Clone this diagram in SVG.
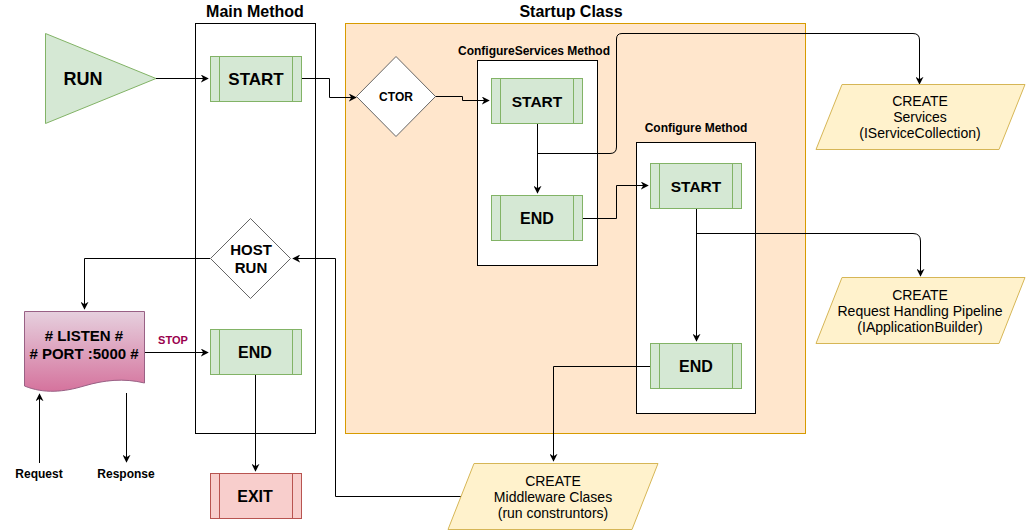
<svg xmlns="http://www.w3.org/2000/svg" width="1026" height="530" viewBox="0 0 1026 530">
<style>
text{font-family:"Liberation Sans",Arial,sans-serif;text-anchor:middle;fill:#000}
.b{font-weight:bold}
.proc{fill:#d5e8d4;stroke:#82b366;stroke-width:1}
.exit{fill:#f8cecc;stroke:#b85450;stroke-width:1}
.io{fill:#fff2cc;stroke:#d6b656;stroke-width:1}
.dia{fill:#ffffff;stroke:#666666;stroke-width:1}
.cont{fill:#ffffff;stroke:#000000;stroke-width:1}
.edge{fill:none;stroke:#000;stroke-width:1}
</style>
<defs>
<marker id="arr" viewBox="0 0 10 10" refX="9" refY="5" markerWidth="8" markerHeight="8" markerUnits="userSpaceOnUse" orient="auto">
<path d="M0,0 L10,5 L0,10 L3,5 z" fill="#000"/>
</marker>
<linearGradient id="pink" x1="0" y1="0" x2="0" y2="1">
<stop offset="0" stop-color="#e6d0de"/>
<stop offset="1" stop-color="#d5739d"/>
</linearGradient>
</defs>

<g id="startup-class">
<rect x="345.5" y="23.5" width="460" height="410" fill="#ffe6cc" stroke="#d79b00"/>
<text class="b" x="571" y="17" font-size="16">Startup Class</text>
</g>
<g id="main-method">
<rect class="cont" x="195.5" y="23.5" width="120" height="410"/>
<text class="b" x="255" y="17" font-size="16">Main Method</text>
</g>
<g id="configureservices-method">
<rect class="cont" x="477.5" y="60.5" width="120" height="205"/>
<text class="b" x="534" y="55" font-size="12">ConfigureServices Method</text>
</g>
<g id="configure-method">
<rect class="cont" x="636.5" y="142.5" width="119" height="271"/>
<text class="b" x="696" y="132" font-size="12">Configure Method</text>
</g>

<g id="connectors">
<path class="edge" d="M156,78.5 H208" marker-end="url(#arr)"/>
<path class="edge" d="M301,78.5 H329.5 V97.5 H356" marker-end="url(#arr)"/>
<path class="edge" d="M435,96.5 H462.5 V100.5 H489" marker-end="url(#arr)"/>
<path class="edge" d="M537.5,123 V193" marker-end="url(#arr)"/>
<path class="edge" d="M537.5,153.5 H610 Q616.5,153.5 616.5,147 V39 Q616.5,33.5 622,33.5 H913 Q919.5,33.5 919.5,40 V84" marker-end="url(#arr)"/>
<path class="edge" d="M582,218.5 H616.5 V185.5 H648" marker-end="url(#arr)"/>
<path class="edge" d="M696.5,208 V341" marker-end="url(#arr)"/>
<path class="edge" d="M696.5,233.5 H913 Q920.5,233.5 920.5,241 V276" marker-end="url(#arr)"/>
<path class="edge" d="M650,366.5 H553.5 V461" marker-end="url(#arr)"/>
<path class="edge" d="M461,496.5 H335.5 V258.5 H293" marker-end="url(#arr)"/>
<path class="edge" d="M210,258.5 H84.5 V309" marker-end="url(#arr)"/>
<path class="edge" d="M144,352.5 H208" marker-end="url(#arr)"/>
<text class="b" x="173" y="344" font-size="11" style="fill:#99004d">STOP</text>
<path class="edge" d="M255.5,374 V471" marker-end="url(#arr)"/>
<path class="edge" d="M39.5,463 V394" marker-end="url(#arr)"/>
<path class="edge" d="M126.5,393 V462" marker-end="url(#arr)"/>
</g>

<g id="run">
<path d="M45.5,33.5 L156,78.5 L45.5,123.5 Z" fill="#d5e8d4" stroke="#82b366"/>
<text class="b" x="83" y="85" font-size="18">RUN</text>
</g>
<g id="main-start">
<rect class="proc" x="210.5" y="56.5" width="91" height="45"/>
<path d="M219.5,56.5 V101.5 M292.5,56.5 V101.5" stroke="#82b366"/>
<text class="b" x="256" y="85" font-size="17">START</text>
</g>
<g id="ctor">
<path class="dia" d="M396,56.5 L435.5,96.5 L396,136.5 L356.5,96.5 Z"/>
<text class="b" x="396" y="101" font-size="12">CTOR</text>
</g>
<g id="cs-start">
<rect class="proc" x="491.5" y="78.5" width="91" height="45"/>
<path d="M500.5,78.5 V123.5 M573.5,78.5 V123.5" stroke="#82b366"/>
<text class="b" x="537" y="107" font-size="15.5">START</text>
</g>
<g id="cs-end">
<rect class="proc" x="491.5" y="195.5" width="91" height="45"/>
<path d="M500.5,195.5 V240.5 M573.5,195.5 V240.5" stroke="#82b366"/>
<text class="b" x="537" y="224" font-size="16">END</text>
</g>
<g id="cfg-start">
<rect class="proc" x="650.5" y="163.5" width="91" height="45"/>
<path d="M659.5,163.5 V208.5 M732.5,163.5 V208.5" stroke="#82b366"/>
<text class="b" x="696" y="192" font-size="15.5">START</text>
</g>
<g id="cfg-end">
<rect class="proc" x="650.5" y="343.5" width="91" height="45"/>
<path d="M659.5,343.5 V388.5 M732.5,343.5 V388.5" stroke="#82b366"/>
<text class="b" x="696" y="372" font-size="16">END</text>
</g>
<g id="create-services">
<path class="io" d="M842,84.5 H1025 L999,149.5 H816 Z"/>
<text x="920" y="106" font-size="14">CREATE</text>
<text x="920" y="122" font-size="14">Services</text>
<text x="920" y="138" font-size="14">(IServiceCollection)</text>
</g>
<g id="create-pipeline">
<path class="io" d="M842,277.5 H1025 L999,343.5 H816 Z"/>
<text x="920" y="300" font-size="14">CREATE</text>
<text x="920" y="316" font-size="14">Request Handling Pipeline</text>
<text x="920" y="332" font-size="14">(IApplicationBuilder)</text>
</g>
<g id="create-middleware">
<path class="io" d="M474,463.5 H658 L632,529.5 H448 Z"/>
<text x="553" y="486" font-size="14">CREATE</text>
<text x="553" y="502" font-size="14">Middleware Clases</text>
<text x="553" y="518" font-size="14">(run construntors)</text>
</g>
<g id="host-run">
<path class="dia" d="M250.5,218.5 L290.5,258.5 L250.5,298.5 L210.5,258.5 Z"/>
<text class="b" x="251" y="255" font-size="15">HOST</text>
<text class="b" x="251" y="273" font-size="15">RUN</text>
</g>
<g id="listen">
<path d="M24.5,311.5 H144.5 V383 C124,378 104,380 84,386 C64,392 44,394 24.5,386 Z" fill="url(#pink)" stroke="#996185"/>
<text class="b" x="84" y="341" font-size="15"># LISTEN #</text>
<text class="b" x="84" y="359" font-size="15"># PORT :5000 #</text>
</g>
<g id="main-end">
<rect class="proc" x="210.5" y="329.5" width="91" height="45"/>
<path d="M219.5,329.5 V374.5 M292.5,329.5 V374.5" stroke="#82b366"/>
<text class="b" x="255" y="358" font-size="16">END</text>
</g>
<g id="exit">
<rect class="exit" x="210.5" y="473.5" width="91" height="45"/>
<path d="M219.5,473.5 V518.5 M292.5,473.5 V518.5" stroke="#b85450"/>
<text class="b" x="255" y="502" font-size="16">EXIT</text>
</g>
<g id="request">
<text class="b" x="39" y="478" font-size="12">Request</text>
</g>
<g id="response">
<text class="b" x="126" y="478" font-size="12">Response</text>
</g>
</svg>
